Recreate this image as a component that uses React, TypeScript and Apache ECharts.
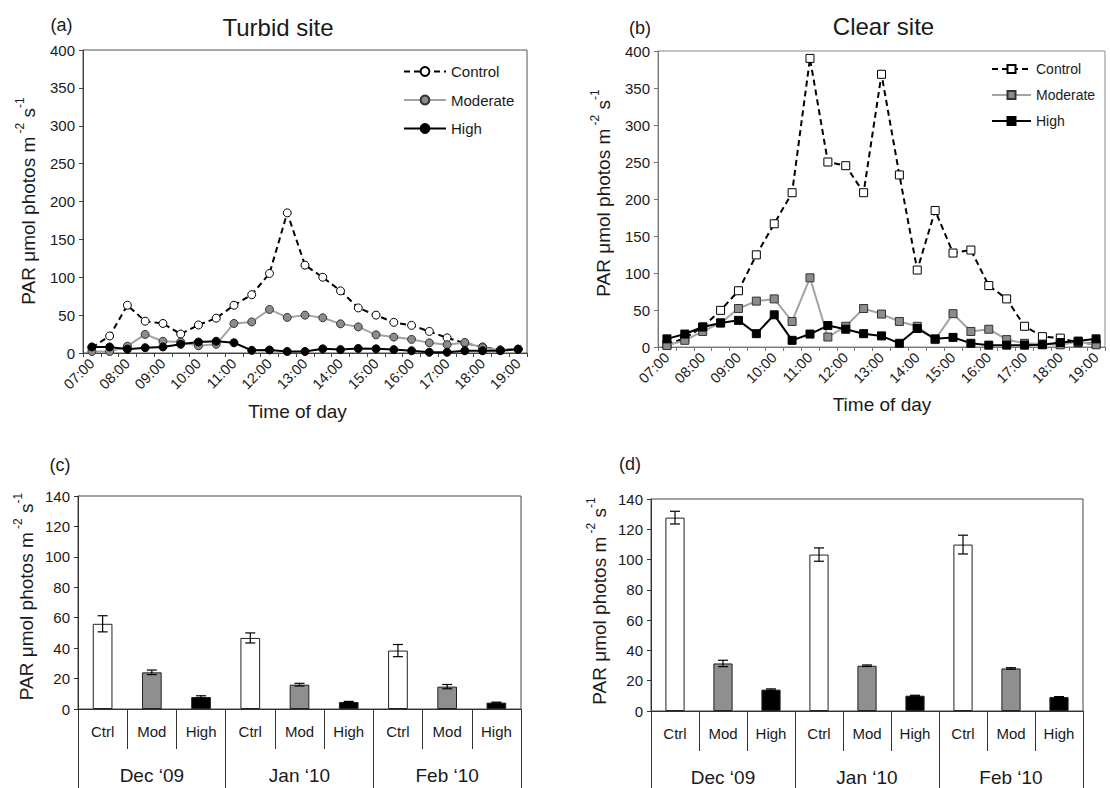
import React, { useEffect, useRef } from 'react';
import * as echarts from 'echarts';

const TIMES = [
  '07:00', '07:30', '08:00', '08:30', '09:00', '09:30', '10:00', '10:30', '11:00', '11:30',
  '12:00', '12:30', '13:00', '13:30', '14:00', '14:30', '15:00', '15:30', '16:00', '16:30',
  '17:00', '17:30', '18:00', '18:30', '19:00',
];

const TURBID_CONTROL = [7, 22.5, 63, 42, 39, 25, 37, 46, 63, 77, 105, 185, 116, 100, 82, 59.5, 50, 40.5, 36.5, 28.5, 20, 13, 8, 4, 5];
const TURBID_MODERATE = [2, 2, 9, 24.5, 15.5, 14.5, 9.5, 11.5, 39, 41, 57.5, 47, 50, 46.5, 38.5, 34.5, 24, 21, 18, 13.5, 11, 14, 7, 4, 5];
const TURBID_HIGH = [8, 8, 5, 7, 8, 11.5, 14.5, 15.5, 13.5, 3.5, 4, 2, 2, 5.5, 4.5, 6, 5.5, 4.5, 3, 1, 1, 3, 3, 3, 5];

const CLEAR_CONTROL = [3, 12, 27, 49.5, 76, 124.5, 166.5, 208.5, 390, 250, 245, 208.5, 368.5, 232.5, 104, 184.5, 127, 131, 83, 65, 28, 14, 12, 6, 4];
const CLEAR_MODERATE = [2, 9, 21, 32.5, 52, 62, 65, 34.5, 93.5, 13.5, 28, 52, 44.5, 34.5, 28, 10, 45, 21, 24, 10, 5, 4, 3, 7, 3];
const CLEAR_HIGH = [11, 17.5, 27, 32.5, 36, 18, 43.5, 9, 17.5, 29, 24, 18, 15, 5, 25, 11, 13, 5, 2.5, 2.5, 2.5, 3, 6, 8, 11];

const TREATMENTS = ['Ctrl', 'Mod', 'High', 'Ctrl', 'Mod', 'High', 'Ctrl', 'Mod', 'High'];
const MONTHS = ['Dec \u201809', 'Jan \u201810', 'Feb \u201810'];
const TURBID_MEAN = [56.0, 24.1, 7.9, 46.7, 16.0, 4.6, 38.4, 14.7, 4.2];
const TURBID_ERR = [5.3, 1.5, 0.8, 3.3, 0.9, 0.4, 4.0, 1.4, 0.3];
const CLEAR_MEAN = [127.7, 31.4, 14.1, 103.3, 29.9, 10.1, 109.9, 28.1, 9.2];
const CLEAR_ERR = [4.2, 2.1, 0.5, 4.4, 0.5, 0.3, 6.2, 0.5, 0.3];

const SERIES_NAMES = ['Control', 'Moderate', 'High'];
const FONT = '"Liberation Sans", Arial, Helvetica, sans-serif';
const TXT = '#1a1a1a';
const BAR_COLORS = ['#ffffff', '#8f8f8f', '#000000'];

function lineAxes(grid: number, axisColor: string) {
  const x = {
    type: 'category',
    gridIndex: grid,
    data: TIMES,
    boundaryGap: true,
    axisLine: { show: true, lineStyle: { color: axisColor, width: 1 } },
    axisTick: { show: true, interval: 0, length: 4, lineStyle: { color: axisColor } },
    axisLabel: { interval: 1, rotate: 45, fontSize: 14.5, color: TXT, margin: 8, fontFamily: FONT },
    splitLine: { show: false },
  };
  const y = {
    type: 'value',
    gridIndex: grid,
    min: 0,
    max: 400,
    interval: 50,
    axisLine: { show: true, lineStyle: { color: axisColor, width: 1 } },
    axisTick: { show: true, length: 4, lineStyle: { color: axisColor } },
    axisLabel: { fontSize: 15, color: TXT, margin: 8, fontFamily: FONT },
    splitLine: { show: false },
  };
  return { x, y };
}

function barAxes(grid: number) {
  const c = '#333';
  const x1 = {
    type: 'category',
    gridIndex: grid,
    data: TREATMENTS,
    position: 'bottom',
    boundaryGap: true,
    axisLine: { show: true, lineStyle: { color: c, width: 1 } },
    axisTick: { show: true, interval: 0, length: 40, lineStyle: { color: c, width: 1 } },
    axisLabel: { interval: 0, fontSize: 15, color: TXT, margin: 15, fontFamily: FONT },
    splitLine: { show: false },
  };
  const x2 = {
    type: 'category',
    gridIndex: grid,
    data: MONTHS,
    position: 'bottom',
    offset: 0,
    boundaryGap: true,
    axisLine: { show: false },
    axisTick: { show: true, interval: 0, length: 85, lineStyle: { color: c, width: 1 } },
    axisLabel: { interval: 0, fontSize: 19, color: TXT, margin: 57, fontFamily: FONT },
    splitLine: { show: false },
  };
  const y = {
    type: 'value',
    gridIndex: grid,
    min: 0,
    max: 140,
    interval: 20,
    axisLine: { show: true, lineStyle: { color: c, width: 1 } },
    axisTick: { show: true, length: 4, lineStyle: { color: c } },
    axisLabel: { fontSize: 15, color: TXT, margin: 8, fontFamily: FONT },
    splitLine: { show: false },
  };
  return { x1, x2, y };
}

function lineSeries(name: string, data: number[], idx: number, kind: number, symbol: string) {
  const styles = [
    { line: { color: '#000', width: 2, type: [6, 4] }, item: { color: '#fff', borderColor: '#000', borderWidth: 1 } },
    { line: { color: '#a3a3a3', width: 2, type: 'solid' }, item: { color: '#8c8c8c', borderColor: '#333', borderWidth: 1 } },
    { line: { color: '#000', width: 2, type: 'solid' }, item: { color: '#000', borderColor: '#000', borderWidth: 1 } },
  ];
  const s = styles[kind];
  return {
    type: 'line',
    name,
    xAxisIndex: idx,
    yAxisIndex: idx,
    data,
    symbol,
    symbolSize: 8,
    showAllSymbol: true,
    lineStyle: s.line,
    itemStyle: s.item,
    emphasis: { disabled: true },
    z: 2 + kind,
  };
}

function barSeries(name: string, means: number[], idx: number) {
  return {
    type: 'bar',
    name,
    xAxisIndex: idx,
    yAxisIndex: idx,
    barWidth: '40%',
    data: means.map((v, i) => ({ value: v, itemStyle: { color: BAR_COLORS[i % 3] } })),
    itemStyle: { borderColor: '#222', borderWidth: 1 },
    emphasis: { disabled: true },
  };
}

function errSeries(name: string, means: number[], errs: number[], idx: number) {
  return {
    type: 'custom',
    name,
    xAxisIndex: idx,
    yAxisIndex: idx,
    z: 5,
    data: means.map((v, i) => [i, v, errs[i]]),
    encode: { x: 0, y: 1 },
    renderItem: (params: any, api: any) => {
      const x = api.value(0);
      const v = api.value(1);
      const e = api.value(2);
      const top = api.coord([x, v + e]);
      const bot = api.coord([x, v - e]);
      const hw = 5;
      const style = { stroke: '#000', lineWidth: 1.2 };
      return {
        type: 'group',
        children: [
          { type: 'line', shape: { x1: top[0], y1: top[1], x2: bot[0], y2: bot[1] }, style },
          { type: 'line', shape: { x1: top[0] - hw, y1: top[1], x2: top[0] + hw, y2: top[1] }, style },
          { type: 'line', shape: { x1: bot[0] - hw, y1: bot[1], x2: bot[0] + hw, y2: bot[1] }, style },
        ],
      };
    },
  };
}

function yTitle(cx: number, cy: number) {
  return {
    type: 'text',
    x: cx,
    y: cy,
    rotation: Math.PI / 2,
    style: {
      text: '{m|PAR \u03bcmol photos m}{s| -2}{m| s}{s|-1}',
      align: 'center',
      verticalAlign: 'middle',
      fill: TXT,
      rich: {
        m: { fontSize: 19, fontFamily: FONT, fill: TXT, lineHeight: 24, verticalAlign: 'bottom' },
        s: { fontSize: 12, fontFamily: FONT, fill: TXT, lineHeight: 12, verticalAlign: 'top' },
      },
    },
  };
}

function label(text: string, x: number, y: number, size: number) {
  return {
    type: 'text',
    x,
    y,
    style: { text, fontSize: size, fontFamily: FONT, fill: TXT, align: 'center', verticalAlign: 'middle' },
  };
}

export default function App() {
  const ref = useRef<HTMLDivElement>(null);
  useEffect(() => {
    if (!ref.current) return;
    const chart = echarts.init(ref.current, undefined, { renderer: 'svg' });
    const a = lineAxes(0, '#444');
    const b = lineAxes(1, '#777');
    const c = barAxes(2);
    const d = barAxes(3);
    const option: any = {
      animation: false,
      backgroundColor: '#fff',
      textStyle: { fontFamily: FONT },
      grid: [
        { left: 83, top: 50, width: 444, height: 303, show: true, borderColor: '#555', borderWidth: 1, containLabel: false },
        { left: 658, top: 51, width: 447, height: 296, show: true, borderColor: '#888', borderWidth: 1, containLabel: false },
        { left: 78, top: 496, width: 443, height: 213, show: true, borderColor: '#444', borderWidth: 1, containLabel: false },
        { left: 651, top: 499, width: 432, height: 212, show: true, borderColor: '#444', borderWidth: 1, containLabel: false },
      ],
      xAxis: [a.x, b.x, c.x1, d.x1, c.x2, d.x2],
      yAxis: [a.y, b.y, c.y, d.y],
      legend: [
        {
          data: SERIES_NAMES,
          orient: 'vertical',
          left: 398,
          top: 59,
          itemWidth: 42,
          itemHeight: 11,
          itemGap: 13.5,
          selectedMode: false,
          textStyle: { fontSize: 15, color: TXT, fontFamily: FONT },
        },
        {
          data: SERIES_NAMES.map((n) => n + ' (b)'),
          formatter: (n: string) => n.replace(' (b)', ''),
          orient: 'vertical',
          left: 986,
          top: 57,
          itemWidth: 39,
          itemHeight: 10,
          itemGap: 12,
          selectedMode: false,
          textStyle: { fontSize: 14, color: TXT, fontFamily: FONT },
        },
      ],
      series: [
        lineSeries('Control', TURBID_CONTROL, 0, 0, 'circle'),
        lineSeries('Moderate', TURBID_MODERATE, 0, 1, 'circle'),
        lineSeries('High', TURBID_HIGH, 0, 2, 'circle'),
        lineSeries('Control (b)', CLEAR_CONTROL, 1, 0, 'rect'),
        lineSeries('Moderate (b)', CLEAR_MODERATE, 1, 1, 'rect'),
        lineSeries('High (b)', CLEAR_HIGH, 1, 2, 'rect'),
        barSeries('Turbid means', TURBID_MEAN, 2),
        errSeries('Turbid error', TURBID_MEAN, TURBID_ERR, 2),
        barSeries('Clear means', CLEAR_MEAN, 3),
        errSeries('Clear error', CLEAR_MEAN, CLEAR_ERR, 3),
      ],
      graphic: [
        label('(a)', 61.5, 25, 18),
        label('(b)', 640, 27.5, 18),
        label('(c)', 60, 464.5, 18),
        label('(d)', 630, 463.5, 18),
        label('Turbid site', 278, 27, 24),
        label('Clear site', 883.5, 26, 24),
        label('Time of day', 297.5, 411, 19),
        label('Time of day', 882, 404, 19),
        yTitle(26, 201),
        yTitle(601, 193),
        yTitle(24, 596.5),
        yTitle(597, 601),
      ],
    };
    chart.setOption(option);
    return () => chart.dispose();
  }, []);
  return (
    <div
      ref={ref}
      style={{ position: 'absolute', left: 0, top: 0, width: 1110, height: 788, background: '#fff' }}
    />
  );
}
